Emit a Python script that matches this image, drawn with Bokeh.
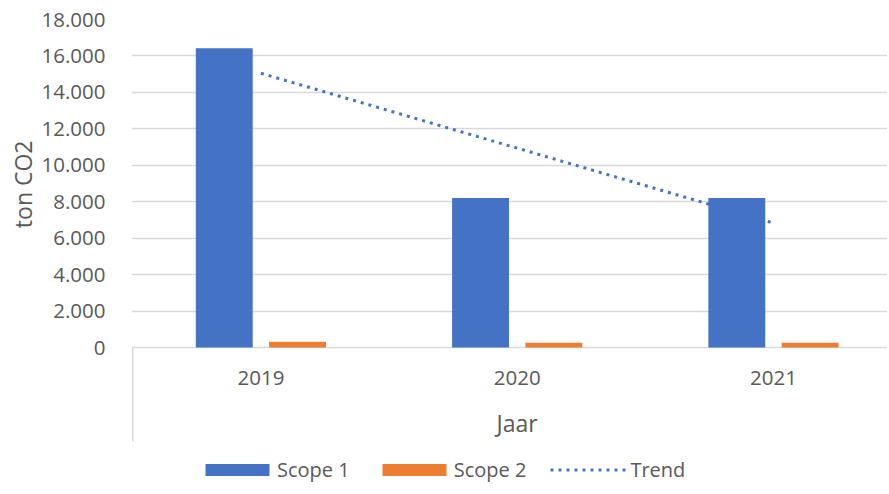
import numpy as np
from bokeh.plotting import figure
from bokeh.models import (ColumnDataSource, Range1d, FixedTicker, Legend, LegendItem,
                          Title)
from bokeh.transform import dodge
from bokeh.core.properties import value
from bokeh.embed import file_html
from bokeh.resources import INLINE

years = ["2019", "2020", "2021"]
scope1 = [16420, 8200, 8200]
scope2 = [320, 260, 260]
y_ticks = [0, 2000, 4000, 6000, 8000, 10000, 12000, 14000, 16000, 18000]
x_title = "Jaar"
y_title = "ton CO2"

xpos = list(range(1, len(years) + 1))
coef = np.polyfit(xpos, scope1, 1)
trend = [coef[0] * x + coef[1] for x in xpos]

FONT = "Open Sans"
FS = "20.5px"
FT = "23px"
TXT = "#595959"
GRID = "#d9d9d9"

src = ColumnDataSource(dict(x=xpos, year=years, s1=scope1, s2=scope2, zero=[0] * 3))

ymax = y_ticks[-1]
px_per_unit = 328 / ymax
ystart = -147 / px_per_unit
yline = -94 / px_per_unit

p = figure(width=889, height=494, output_backend="svg", toolbar_location=None,
           x_range=Range1d(0.495, 3.445), y_range=Range1d(ystart, ymax),
           x_axis_type=None, min_border_left=131, min_border_right=2,
           min_border_top=19, min_border_bottom=0)
p.outline_line_color = None
p.background_fill_color = "white"
p.border_fill_color = "white"

yax = p.yaxis[0]
yax.ticker = FixedTicker(ticks=y_ticks)
yax.major_label_overrides = {t: f"{t:,}".replace(",", ".") for t in y_ticks}
yax.axis_line_color = None
yax.major_tick_line_color = None
yax.minor_tick_line_color = None
yax.major_label_standoff = 20
yax.major_label_text_font = FONT
yax.major_label_text_font_size = FS
yax.major_label_text_color = TXT
p.ygrid.ticker = FixedTicker(ticks=y_ticks)
p.ygrid.grid_line_color = GRID
p.ygrid.grid_line_width = 1.5

r1 = p.vbar(x=dodge("x", -0.143, range=p.x_range), top="s1", width=0.222,
            source=src, fill_color="#4472C4", line_color=None)
r2 = p.vbar(x=dodge("x", 0.143, range=p.x_range), top="s2", width=0.222,
            source=src, fill_color="#ED7D31", line_color=None)
rt = p.line(xpos, trend, line_color="#4472C4", line_width=3, line_dash="3 5")

# left category boundary line below the axis
p.segment(x0=[0.5], y0=[0], x1=[0.5], y1=[yline], line_color=GRID, line_width=1.5)

# category labels and axis title
p.text(x="x", y="zero", text="year", source=src, y_offset=30,
       text_align="center", text_baseline="middle", text_font=value(FONT),
       text_font_size=FS, text_color=TXT)
p.text(x=[2], y=[0], text=[x_title], y_offset=75, text_align="center",
       text_baseline="middle", text_font=value(FONT), text_font_size=FT,
       text_color=TXT)

p.add_layout(Title(text=y_title, align="right", offset=121, standoff=0,
                   text_font=FONT, text_font_size=FT, text_font_style="normal",
                   text_color=TXT), "left")

legend = Legend(items=[LegendItem(label="Scope 1", renderers=[r1]),
                       LegendItem(label="Scope 2", renderers=[r2]),
                       LegendItem(label="Trend", renderers=[rt])],
                orientation="horizontal", location=(66, 11),
                glyph_width=80, glyph_height=15, label_height=24,
                label_standoff=0, spacing=24, padding=0, margin=0,
                border_line_color=None, background_fill_alpha=0,
                label_text_font=FONT, label_text_font_size="20px",
                label_text_color=TXT)
p.add_layout(legend, "center")

open("out.html", "w").write(file_html(p, INLINE))
